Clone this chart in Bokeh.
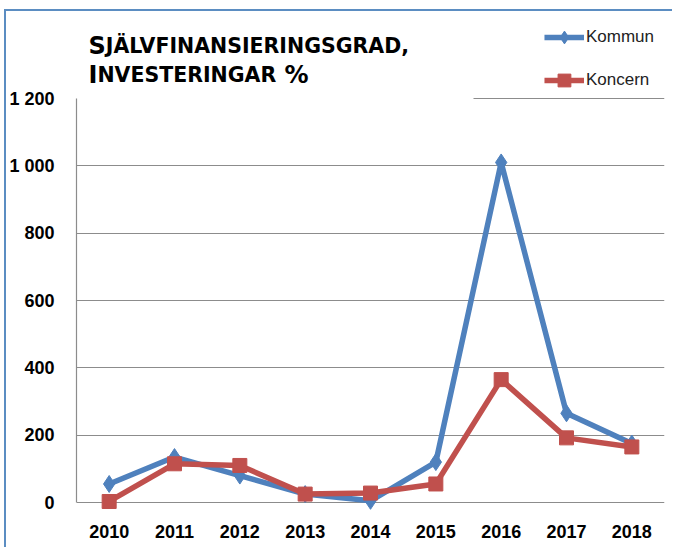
from bokeh.plotting import figure
from bokeh.models import FixedTicker, Label
from bokeh.embed import file_html
from bokeh.resources import INLINE

# ---- data ----
years = [2010, 2011, 2012, 2013, 2014, 2015, 2016, 2017, 2018]
kommun = [55, 135, 80, 25, 5, 120, 1010, 265, 175]
koncern = [3, 115, 110, 25, 28, 55, 365, 192, 165]
y_ticks = [0, 200, 400, 600, 800, 1000, 1200]
y_tick_labels = ["0", "200", "400", "600", "800", "1 000", "1 200"]
series_names = ["Kommun", "Koncern"]
title_line1 = ["S", "JÄLVFINANSIERINGSGRAD,"]
title_line2 = ["I", "NVESTERINGAR", "%"]

# ---- style ----
BLUE = "#4f81bd"
RED = "#c0504d"
GRID = "#8c8c8c"
TXT = "#000000"
TICK_FONT = "Liberation Sans"
TITLE_FONT = "DejaVu Sans"

FRAME_L = 70
FRAME_W = 588
FRAME_H = 506
X0, X1 = 2009.5, 2018.5
PPU = 404 / 1200.0            # pixels per y unit
Y_TOP = 1200 + 87 / PPU
Y0 = Y_TOP - FRAME_H / PPU


def dx(px):
    return X0 + (px - FRAME_L) * (X1 - X0) / FRAME_W


def dy(py):
    return Y_TOP - py / PPU


p = figure(
    width=FRAME_L + FRAME_W + 8, height=FRAME_H + 30,
    frame_width=FRAME_W, frame_height=FRAME_H,
    min_border_left=FRAME_L, min_border_right=8,
    min_border_top=0, min_border_bottom=30,
    x_range=(X0, X1), y_range=(Y0, Y_TOP),
    output_backend="svg", toolbar_location=None, title=None,
)
p.outline_line_color = None
p.background_fill_color = "white"
p.border_fill_color = "white"
p.styles = {"border-left": "2px solid #5b8dc2", "border-top": "2px solid #5b8dc2",
            "margin-left": "4px", "margin-top": "9px"}

# axes
p.xaxis.ticker = FixedTicker(ticks=years)
p.xaxis.axis_line_color = None
p.xaxis.major_tick_line_color = None
p.xaxis.minor_tick_line_color = None
p.xaxis.major_label_standoff = 1
p.xaxis.major_label_text_font = TICK_FONT
p.xaxis.major_label_text_font_style = "bold"
p.xaxis.major_label_text_font_size = "18px"
p.xaxis.major_label_text_color = TXT

p.yaxis.ticker = FixedTicker(ticks=y_ticks)
p.yaxis.major_label_overrides = {t: l for t, l in zip(y_ticks, y_tick_labels)}
p.yaxis.bounds = (y_ticks[0], y_ticks[-1])
p.yaxis.axis_line_color = GRID
p.yaxis.axis_line_width = 1.2
p.yaxis.major_tick_line_color = None
p.yaxis.minor_tick_line_color = None
p.yaxis.major_label_standoff = 16
p.yaxis.major_label_text_font = TICK_FONT
p.yaxis.major_label_text_font_style = "bold"
p.yaxis.major_label_text_font_size = "18px"
p.yaxis.major_label_text_color = TXT

p.xgrid.visible = False
p.ygrid.ticker = FixedTicker(ticks=y_ticks[:-1])
p.ygrid.grid_line_color = GRID
p.ygrid.grid_line_width = 1.2

# partial top gridline (rest hidden behind the title area)
p.segment(x0=[dx(467)], y0=[y_ticks[-1]], x1=[X1], y1=[y_ticks[-1]],
          line_color=GRID, line_width=1.2)

# series
p.line(years, kommun, line_color=BLUE, line_width=5.5, legend_label=series_names[0])
p.scatter(years, kommun, marker="diamond", size=17, fill_color=BLUE,
          line_color=BLUE, legend_label=series_names[0])
p.line(years, koncern, line_color=RED, line_width=5.5, legend_label=series_names[1])
p.scatter(years, koncern, marker="square", size=14, fill_color=RED,
          line_color=RED, legend_label=series_names[1])

lg = p.legend[0]
lg.location = "top_right"
lg.margin = 10
lg.padding = 0
lg.spacing = 11
lg.label_height = 32
lg.glyph_height = 32
lg.glyph_width = 40
lg.label_standoff = 2
lg.border_line_alpha = 0
lg.background_fill_alpha = 0
lg.label_text_font = TICK_FONT
lg.label_text_font_size = "17px"
lg.label_text_color = "#222222"

# title (small caps, built from pieces)
BIG, SMALL = 24, 20.5
w_S = 0.720 * BIG
w_I = 0.372 * BIG
w_NV = 8.723 * SMALL
w_sp = 0.348 * BIG
pieces = [
    (title_line1[0], 34, BIG, 0),
    (title_line1[1], 34, SMALL, w_S),
    (title_line2[0], 63, BIG, 0),
    (title_line2[1], 63, SMALL, w_I),
    (title_line2[2], 63, BIG, w_I + w_NV + w_sp),
]
for txt, py, size, off in pieces:
    p.add_layout(Label(x=dx(82), y=dy(py), text=txt, x_offset=off,
                       text_font=TITLE_FONT, text_font_style="bold",
                       text_font_size=f"{size}px", text_color=TXT,
                       text_baseline="alphabetic", text_align="left"))

open("out.html", "w").write(file_html(p, INLINE))
